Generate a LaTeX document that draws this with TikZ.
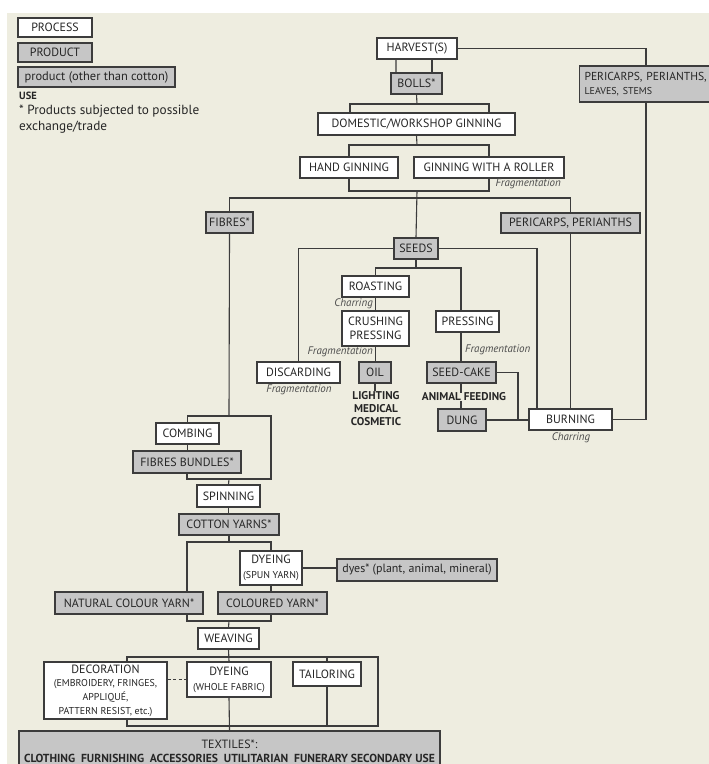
\documentclass[tikz,border=0pt]{standalone}
\usepackage{fontspec}
\setmainfont{PT Sans}
\definecolor{bg}{RGB}{238,237,224}
\definecolor{gfill}{RGB}{198,198,198}
\definecolor{ln}{RGB}{60,60,60}
\newcommand{\smf}{\fontsize{10}{11}\selectfont}
\begin{document}
\begin{tikzpicture}[x=1bp,y=-1bp,
 base/.style={draw=ln, line width=1.1bp, inner sep=0pt, align=center, text=black!85, font=\fontsize{12}{14}\selectfont},
 proc/.style={base, fill=white},
 prod/.style={base, fill=gfill},
 wd/.style={minimum width=#1bp},
 ht/.style={minimum height=#1bp},
 conn/.style={draw=ln, line width=1.1bp},
 lab/.style={font=\fontsize{11}{12}\selectfont\itshape, text=black!70, inner sep=0pt},
 usetxt/.style={font=\fontsize{11.3}{13}\selectfont\bfseries, align=center, inner sep=0pt, text=black!85},
]
\fill[white] (0,0) rectangle (709,764);
\fill[bg] (7,13) rectangle (709,764);
\useasboundingbox (0,0) rectangle (709,764);

% legend
\node[proc, wd=74, ht=19] (lproc) at (55,27.5) {PROCESS};
\node[prod, wd=74, ht=19] (lprod) at (55,52.5) {PRODUCT};
\node[prod, wd=157, ht=20, font=\fontsize{12.5}{14}\selectfont] (lother) at (96.5,77) {product (other than cotton)};
\node[anchor=west, inner sep=0pt, font=\fontsize{10.5}{11}\selectfont\bfseries, text=black!85] (luse) at (19,96) {USE};
\node[anchor=north west, inner sep=0pt, align=left, font=\fontsize{13.3}{16}\selectfont, text=black!85] (lnote) at (19,105) {* Products subjected to possible\\exchange/trade};

% top
\node[proc, wd=80, ht=21] (harvest) at (417,48.5) {HARVEST(S)};
\node[prod, wd=51, ht=21] (bolls) at (416.5,83.5) {BOLLS*};
\node[prod, anchor=west, text width=127bp, inner xsep=5bp, ht=36, align=left, font=\fontsize{11.6}{14}\selectfont] (peri1) at (579,84) {PERICARPS, PERIANTHS,\\{\smf LEAVES, STEMS}};
\node[proc, wd=197, ht=22] (domestic) at (416.5,124) {DOMESTIC/WORKSHOP GINNING};
\node[proc, wd=98, ht=21] (hand) at (349,167.5) {HAND GINNING};
\node[proc, wd=150, ht=21] (roller) at (489,167.5) {GINNING WITH A ROLLER};
\node[lab, anchor=east] (frag1) at (561,184) {Fragmentation};

% middle
\node[prod, wd=47, ht=21] (fibres) at (229.5,222.5) {FIBRES*};
\node[prod, wd=139, ht=20] (peri2) at (570.5,223) {PERICARPS, PERIANTHS};
\node[prod, wd=44, ht=21] (seeds) at (416,248.5) {SEEDS};
\node[proc, wd=67, ht=21] (roasting) at (375.5,286.5) {ROASTING};
\node[lab, anchor=east] (char1) at (373,304) {Charring};
\node[proc, wd=67, ht=35] (crushing) at (375.5,328.5) {CRUSHING\\PRESSING};
\node[lab, anchor=east] (frag2) at (373,352) {Fragmentation};
\node[proc, wd=63, ht=21] (pressing) at (467.5,321.5) {PRESSING};
\node[lab, anchor=west] (frag3) at (465,350) {Fragmentation};
\node[proc, wd=83, ht=21] (discard) at (298.5,372.5) {DISCARDING};
\node[lab] (frag4) at (299,390) {Fragmentation};
\node[prod, wd=32, ht=21] (oil) at (375,372.5) {OIL};
\node[usetxt, anchor=north] (uses) at (376,391) {LIGHTING\\MEDICAL\\COSMETIC};
\node[prod, wd=69, ht=21] (cake) at (461.5,372.5) {SEED-CAKE};
\node[usetxt] (feed) at (464,397) {ANIMAL FEEDING};
\node[prod, wd=48, ht=22] (dung) at (462,420) {DUNG};
\node[proc, wd=83, ht=21] (burning) at (570.5,419.5) {BURNING};
\node[lab] (char2) at (571,438) {Charring};

% lower
\node[proc, wd=63, ht=21] (combing) at (187.5,433.5) {COMBING};
\node[prod, wd=108, ht=22] (bundles) at (187,462) {FIBRES BUNDLES*};
\node[proc, wd=63, ht=22] (spinning) at (228.5,496) {SPINNING};
\node[prod, wd=100, ht=21] (yarns) at (229,524.5) {COTTON YARNS*};
\node[proc, wd=62, ht=34, font=\fontsize{12}{15}\selectfont] (dye1) at (271,568) {DYEING\\{\smf (SPUN YARN)}};
\node[prod, wd=160, ht=22] (dyes) at (417,570) {dyes* (plant, animal, mineral)};
\node[prod, wd=148, ht=22] (natural) at (129,603) {NATURAL COLOUR YARN*};
\node[prod, wd=109, ht=22] (coloured) at (272.5,603) {COLOURED YARN*};
\node[proc, wd=61, ht=21] (weaving) at (228.5,638.5) {WEAVING};
\node[proc, wd=123, ht=57, font=\fontsize{12}{13.7}\selectfont] (deco) at (105.5,690.5) {DECORATION\\{\smf (EMBROIDERY, FRINGES,}\\{\smf APPLIQUÉ,}\\{\smf PATTERN RESIST, etc.)}};
\node[proc, wd=84, ht=35, font=\fontsize{12}{15}\selectfont] (dye2) at (229,679.5) {DYEING\\{\smf (WHOLE FABRIC)}};
\node[proc, wd=68, ht=24] (tailor) at (327,674) {TAILORING};
\node[prod, wd=421, ht=40, font=\fontsize{12}{14}\selectfont] (textiles) at (229.5,751) {TEXTILES*:\\{\fontsize{11.7}{14}\selectfont\bfseries CLOTHING\enspace FURNISHING\enspace ACCESSORIES\enspace UTILITARIAN\enspace FUNERARY SECONDARY USE}};

% junction coordinates
\coordinate (jb) at (417,104);
\coordinate (jd) at (417,145);
\coordinate (jg) at (417,191);
\coordinate (jm) at (417,198);
\coordinate (js) at (416,268);
\coordinate (jk) at (518,420);
\coordinate (jf1) at (229,416);
\coordinate (jf2) at (229,479);
\coordinate (jc) at (229,542);
\coordinate (jw) at (229,621);
\coordinate (jv) at (229,657);
\coordinate (jt) at (229,726);

% connectors top
\draw[conn] (harvest.east) -| (peri1.north -| 646,0);
\draw[conn] ([xshift=-21bp]harvest.south) -- ([xshift=-20.5bp]bolls.north);
\draw[conn] ([xshift=15bp]harvest.south) -- ([xshift=15.5bp]bolls.north);
\draw[conn] (bolls.south) -- (jb);
\draw[conn] (domestic.north -| 350,0) -- (jb -| 350,0) -- (jb -| 489,0) -- (domestic.north -| 489,0);
\draw[conn] (domestic.south) -- (jd);
\draw[conn] (hand.north) -- (hand.north |- jd) -- (roller.north |- jd) -- (roller.north);
\draw[conn] (hand.south) -- (hand.south |- jg) -- (roller.south |- jg) -- (roller.south);
\draw[conn] (jg) -- (seeds.north);
\draw[conn] (fibres.north) |- (peri2.north |- jm) -- (peri2.north);

% connectors middle
\draw[conn] (seeds.west) -| (discard.north);
\draw[conn] (seeds.east) -| (burning.north -| 537,0);
\draw[conn] (peri2.south) -- (burning.north -| peri2.south);
\draw[conn] (peri1.south -| 646,0) |- (burning.east);
\draw[conn] (seeds.south) -- (js);
\draw[conn] (roasting.north) -- (roasting.north |- js) -- (js -| 461,0) -- (pressing.north -| 461,0);
\draw[conn] (roasting.south) -- (crushing.north);
\draw[conn] (crushing.south) -- (oil.north -| crushing.south);
\draw[conn] (oil.south) -- (uses.north -| oil.south);
\draw[conn] (pressing.south -| 461,0) -- (cake.north -| 461,0);
\draw[conn] (cake.south -| 461,0) -- (feed.north -| 461,0);
\draw[conn] (feed.south -| 461,0) -- (dung.north -| 461,0);
\draw[conn] (cake.east) -| (jk);
\draw[conn] (dung.east) -- (dung.east -| burning.west);

% connectors lower
\draw[conn] (fibres.south) -- (jf1);
\draw[conn] (combing.north) -- (combing.north |- jf1) -- (jf1 -| 271,0) -- (jf2 -| 271,0) -- (jf2 -| bundles.south) -- (bundles.south);
\draw[conn] (combing.south) -- (bundles.north -| combing.south);
\draw[conn] (jf2) -- (spinning.north);
\draw[conn] (spinning.south) -- (yarns.north -| spinning.south);
\draw[conn] (yarns.south) -- (jc);
\draw[conn] (natural.north -| 187,0) -- (jc -| 187,0) -- (jc -| dye1.north) -- (dye1.north);
\draw[conn] (dye1.east) -- (dye1.east -| dyes.west);
\draw[conn] (dye1.south) -- (coloured.north -| dye1.south);
\draw[conn] (natural.south -| 187,0) -- (jw -| 187,0) -- (jw -| 271,0) -- (coloured.south -| 271,0);
\draw[conn] (jw) -- (weaving.north);
\draw[conn] (weaving.south) -- (dye2.north);
\draw[conn] (deco.north -| 127,0) -- (jv -| 127,0) -- (jv -| 378,0) -- (jt -| 378,0) -- (jt -| 127,0) -- (deco.south -| 127,0);
\draw[conn] (tailor.north) -- (tailor.north |- jv);
\draw[conn] (tailor.south) -- (tailor.south |- jt);
\draw[conn] (dye2.south) -- (textiles.north);
\draw[conn, dashed, dash pattern=on 3bp off 2.5bp] (deco.east |- dye2.west) -- (dye2.west);
\end{tikzpicture}
\end{document}
